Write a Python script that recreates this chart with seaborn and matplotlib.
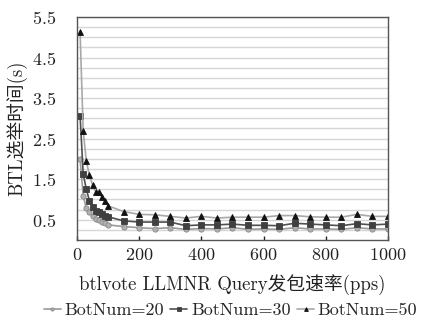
import matplotlib
matplotlib.use("Agg")
import matplotlib.pyplot as plt
import seaborn as sns
import pandas as pd
import numpy as np

x_rate = [10, 20, 30, 40, 50, 60, 70, 80, 90, 100,
          150, 200, 250, 300, 350, 400, 450, 500, 550, 600,
          650, 700, 750, 800, 850, 900, 950, 1000]
bot20 = [1.99, 1.09, 0.78, 0.68, 0.58, 0.52, 0.49, 0.45, 0.42, 0.37,
         0.33, 0.30, 0.28, 0.30, 0.26, 0.28, 0.27, 0.30, 0.26, 0.27,
         0.26, 0.30, 0.27, 0.27, 0.26, 0.30, 0.27, 0.27]
bot30 = [3.06, 1.63, 1.25, 0.97, 0.80, 0.72, 0.70, 0.65, 0.60, 0.57,
         0.47, 0.44, 0.44, 0.44, 0.35, 0.37, 0.37, 0.39, 0.36, 0.36,
         0.35, 0.41, 0.39, 0.37, 0.35, 0.40, 0.37, 0.39]
bot50 = [5.12, 2.69, 1.94, 1.60, 1.36, 1.19, 1.19, 1.05, 0.95, 0.84,
         0.70, 0.63, 0.62, 0.58, 0.54, 0.58, 0.54, 0.56, 0.56, 0.56,
         0.60, 0.60, 0.57, 0.56, 0.56, 0.63, 0.58, 0.58]
series_names = ["BotNum=20", "BotNum=30", "BotNum=50"]
x_ticks = [0, 200, 400, 600, 800, 1000]
y_ticks = [0.5, 1.5, 2.5, 3.5, 4.5, 5.5]
x_label = "btlvote LLMNR Query发包速率(pps)"
y_label = "BTL选举时间(s)"

sns.set_theme(style="white")
plt.rcParams['font.family'] = ['cmr10', 'Noto Sans CJK SC', 'DejaVu Serif']
plt.rcParams['axes.formatter.use_mathtext'] = True
plt.rcParams['mathtext.fontset'] = 'cm'

df = pd.DataFrame({
    "rate": x_rate * 3,
    "time": bot20 + bot30 + bot50,
    "series": sum([[n] * len(x_rate) for n in series_names], []),
})

fig = plt.figure(figsize=(4.23, 3.22), dpi=100)
ax = fig.add_axes([0.182, 0.255, 0.735, 0.692])

styles = {
    "BotNum=20": dict(line="#9a9a9a", mface="#b0b0b0", medge="#8a8a8a", marker="o", ms=3.8),
    "BotNum=30": dict(line="#505050", mface="#404040", medge="#404040", marker="s", ms=4.2),
    "BotNum=50": dict(line="#a8a8a8", mface="#111111", medge="#111111", marker="^", ms=4.6),
}
for name in series_names:
    s = styles[name]
    sub = df[df["series"] == name]
    sns.lineplot(data=sub, x="rate", y="time", ax=ax, color=s["line"], lw=1.2,
                 marker=s["marker"], markersize=s["ms"], markerfacecolor=s["mface"],
                 markeredgecolor=s["medge"], markeredgewidth=0.6, label=name,
                 legend=False)

ax.set_xlim(0, 1000)
ax.set_ylim(0, 5.5)
ax.set_xticks(x_ticks)
ax.set_yticks(y_ticks)
ax.set_yticks(np.arange(0.25, 5.5, 0.25), minor=True)
ax.grid(False)
ax.yaxis.grid(True, which="both", color="#d6d6d6", lw=1.0)
ax.set_axisbelow(True)
ax.tick_params(axis="x", which="major", direction="in", length=3, width=1,
               color="#222222", labelsize=13, pad=5, bottom=True)
ax.tick_params(axis="y", which="both", length=0, labelsize=13, pad=15)
for sp in ax.spines.values():
    sp.set_color("#555555")
    sp.set_linewidth(1.0)
ax.set_xlabel(x_label, fontsize=13.5, color="#222222")
ax.set_ylabel(y_label, fontsize=13.5, color="#222222")
ax.xaxis.set_label_coords(0.5, -0.152)
ax.yaxis.set_label_coords(-0.16, 0.5)
for lab in ax.get_xticklabels() + ax.get_yticklabels():
    lab.set_color("#222222")

handles = ax.get_lines()[:3]
fig.legend(handles=handles, labels=series_names, loc="center", ncol=3,
           bbox_to_anchor=(0.545, 0.037), frameon=False, fontsize=13,
           handlelength=0.95, handletextpad=0.2, columnspacing=0.35,
           markerscale=0.6, borderaxespad=0, borderpad=0)

fig.savefig("out.png", dpi=100)
